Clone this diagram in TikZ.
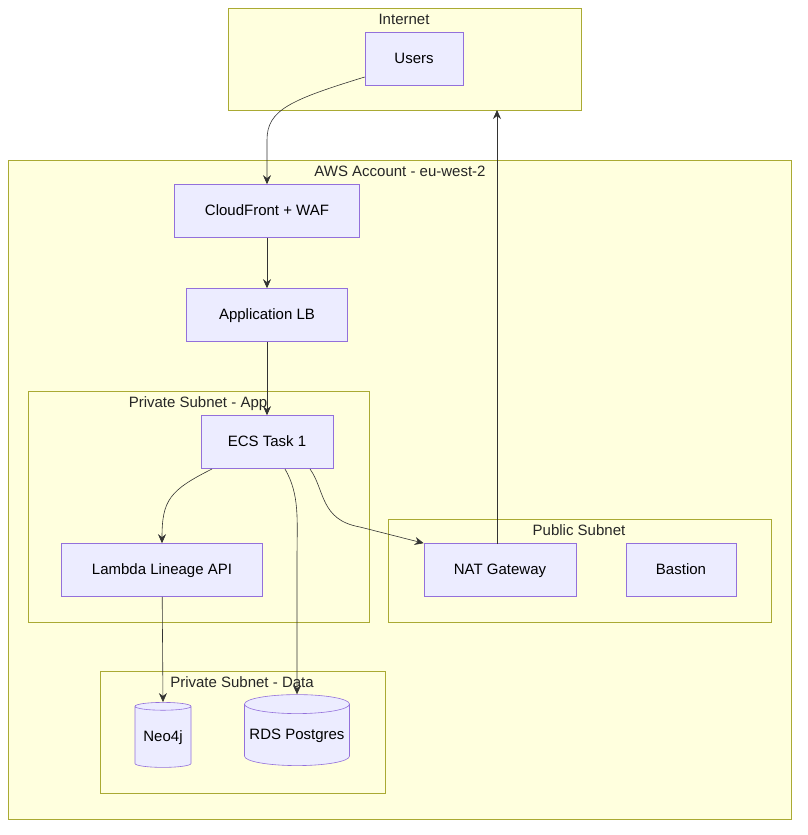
\documentclass[tikz,border=0pt]{standalone}
\usepackage{fontspec}
\setmainfont{Liberation Sans}
\usetikzlibrary{shapes.geometric,arrows.meta}
\definecolor{boxfill}{HTML}{FFFFDE}
\definecolor{boxline}{HTML}{AAAA33}
\definecolor{nodefill}{HTML}{ECECFF}
\definecolor{nodeline}{HTML}{9370DB}

\begin{document}
\begin{tikzpicture}[x=1pt,y=-1pt,font=\fontsize{15}{17}\selectfont,
  zone/.style={draw=boxline,fill=boxfill,line width=0.6pt},
  zonelabel/.style={inner sep=0pt,text=black!85,text height=11pt,text depth=3pt},
  svc/.style={draw=nodeline,fill=nodefill,line width=0.6pt,minimum height=53pt,inner sep=0pt,text height=11pt,text depth=3pt},
  store/.style={cylinder,shape border rotate=90,draw=nodeline,fill=nodefill,line width=0.6pt,inner sep=0pt,aspect=0.2,text height=11pt,text depth=3pt},
  flow/.style={draw=black!80,line width=0.6pt,-{Stealth[length=9pt,width=8pt]}}]
\useasboundingbox (0,0) rectangle (807,835);

% subnets and accounts
\draw[zone] (228,8) rectangle (581,110);
\node[zonelabel] (lInternet) at (404,20) {Internet};
\draw[zone] (8,160) rectangle (791,819);
\node[zonelabel] (lAws) at (400,172) {AWS Account - eu-west-2};
\draw[zone] (28,391) rectangle (369,622);
\node[zonelabel] (lApp) at (198,403) {Private Subnet - App};
\draw[zone] (388,519) rectangle (771,622);
\node[zonelabel] (lPublic) at (579,531) {Public Subnet};
\draw[zone] (100,671) rectangle (385,793);
\node[zonelabel] (lData) at (242,683) {Private Subnet - Data};

% services
\node[svc,minimum width=98pt] (users) at (414,59) {Users};
\node[svc,minimum width=185pt] (cdn) at (267,211) {CloudFront + WAF};
\node[svc,minimum width=161pt] (alb) at (267,315) {Application LB};
\node[svc,minimum width=132pt] (ecs) at (267,442) {ECS Task 1};
\node[svc,minimum width=201pt] (lambda) at (162,570) {Lambda Lineage API};
\node[svc,minimum width=152pt] (nat) at (500,570) {NAT Gateway};
\node[svc,minimum width=110pt] (bastion) at (681,570) {Bastion};
\node[store,minimum width=56pt,minimum height=65pt] (neo) at (163,737) {Neo4j};
\node[store,minimum width=105pt,minimum height=71pt] (rds) at (297,735) {RDS Postgres};

% traffic
\draw[flow] (users.west |- 0,77) .. controls (290,100) and (267,110) .. (267,140) -- (cdn.north);
\draw[flow] (cdn) -- (alb);
\draw[flow] (alb) -- (ecs);
\draw[flow] (212,469) .. controls (170,490) and (162,500) .. (lambda.north);
\draw[flow] (285,469) .. controls (300,495) and (297,520) .. (297,560) -- (rds.north);
\draw[flow] (310,469) .. controls (325,490) and (320,520) .. (360,527) -- (nat.north west);
\draw[flow] (497,544) -- (497,110);
\draw[flow] (lambda) -- (neo.north);
\end{tikzpicture}
\end{document}
